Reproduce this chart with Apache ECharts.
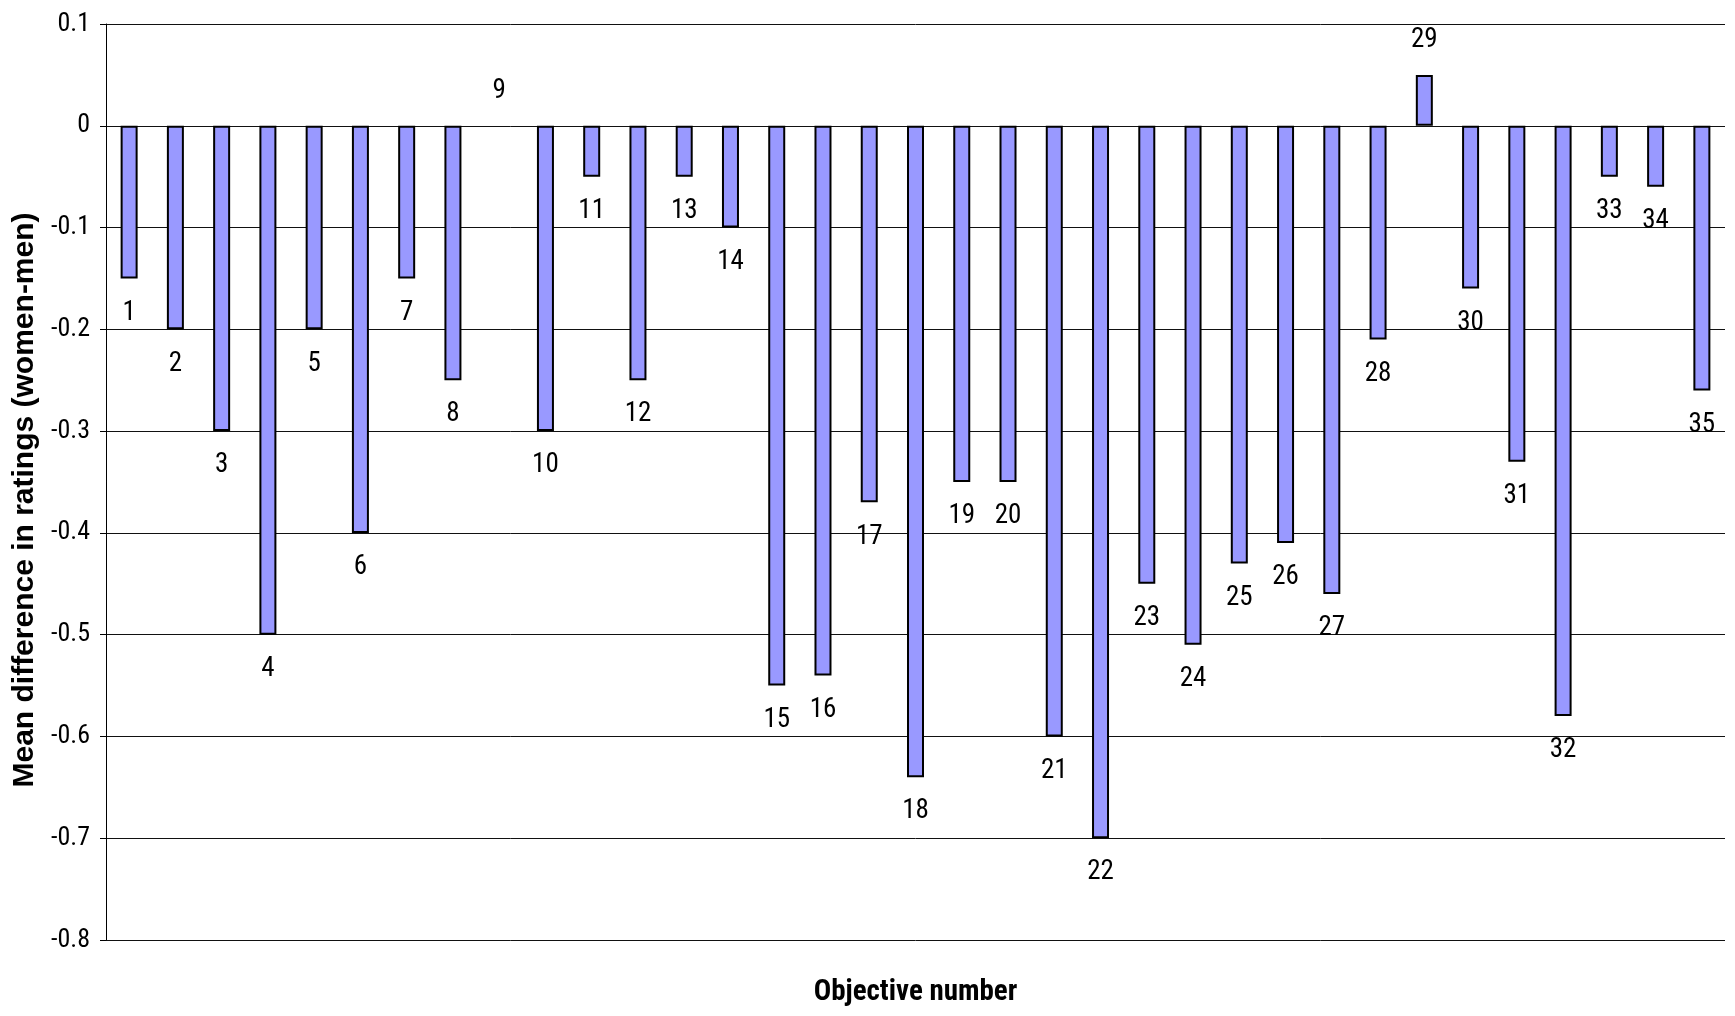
<!DOCTYPE html>
<html>
<head>
<meta charset="utf-8">
<script src="https://cdn.jsdelivr.net/npm/echarts@6/dist/echarts.min.js"></script>
<style>
  html, body { margin: 0; padding: 0; background: #fff; }
  #chart { width: 1735px; height: 1016px; }
</style>
</head>
<body>
<div id="chart"></div>
<script>
// objective numbers and mean rating difference (women - men)
const objectives = ['1','2','3','4','5','6','7','8','9','10','11','12','13','14','15','16','17','18',
  '19','20','21','22','23','24','25','26','27','28','29','30','31','32','33','34','35'];
const meanDiff = [-0.15, -0.2, -0.3, -0.5, -0.2, -0.4, -0.15, -0.25, 0, -0.3, -0.05, -0.25, -0.05, -0.1,
  -0.55, -0.54, -0.37, -0.64, -0.35, -0.35, -0.6, -0.7, -0.45, -0.51, -0.43, -0.41, -0.46, -0.21,
  0.05, -0.16, -0.33, -0.58, -0.05, -0.06, -0.26];

const narrow = '"Liberation Sans Narrow", "Arial Narrow", "Roboto Condensed", "Liberation Sans", sans-serif';

const chart = echarts.init(document.getElementById('chart'));

const barData = meanDiff.map(v => {
  const item = {
    value: v,
    label: v >= 0 ? { position: 'top', distance: 21 } : { position: 'bottom', distance: 21 }
  };
  // a zero bar has no visible outline in the original
  if (v === 0) item.itemStyle = { borderWidth: 0 };
  return item;
});

const option = {
  animation: false,
  grid: { left: 106, right: 10, top: 24, bottom: 76 },
  xAxis: {
    type: 'category',
    data: objectives,
    name: 'Objective number',
    nameLocation: 'middle',
    nameGap: 38,
    nameTextStyle: { fontFamily: narrow, fontWeight: 'bold', fontSize: 29, color: '#000' },
    axisLine: { show: false, onZero: false },
    axisTick: { show: false },
    axisLabel: { show: false },
    splitLine: { show: false }
  },
  yAxis: {
    type: 'value',
    min: -0.8,
    max: 0.1,
    interval: 0.1,
    name: 'Mean difference in ratings (women-men)',
    nameLocation: 'middle',
    nameGap: 64,
    nameTextStyle: {
      fontFamily: '"Liberation Sans", Arial, sans-serif',
      fontWeight: 'bold',
      fontSize: 30,
      color: '#000',
      padding: [0, 36, 0, 0]
    },
    axisLine: { show: true, lineStyle: { color: '#000', width: 1 } },
    axisTick: { show: true, length: 6, lineStyle: { color: '#000' } },
    axisLabel: {
      fontFamily: narrow,
      fontSize: 26,
      color: '#000',
      margin: 16,
      formatter: v => Math.abs(v) < 1e-9 ? '0' : String(+v.toFixed(1))
    },
    splitLine: { show: true, lineStyle: { color: '#111', width: 1 } }
  },
  series: [
    {
      type: 'bar',
      data: barData,
      barWidth: 17,
      itemStyle: { color: '#9999FF', borderColor: '#000', borderWidth: 2 },
      label: {
        show: true,
        formatter: '{b}',
        fontFamily: narrow,
        fontSize: 27,
        color: '#000'
      }
    }
  ]
};

chart.setOption(option);
</script>
</body>
</html>
